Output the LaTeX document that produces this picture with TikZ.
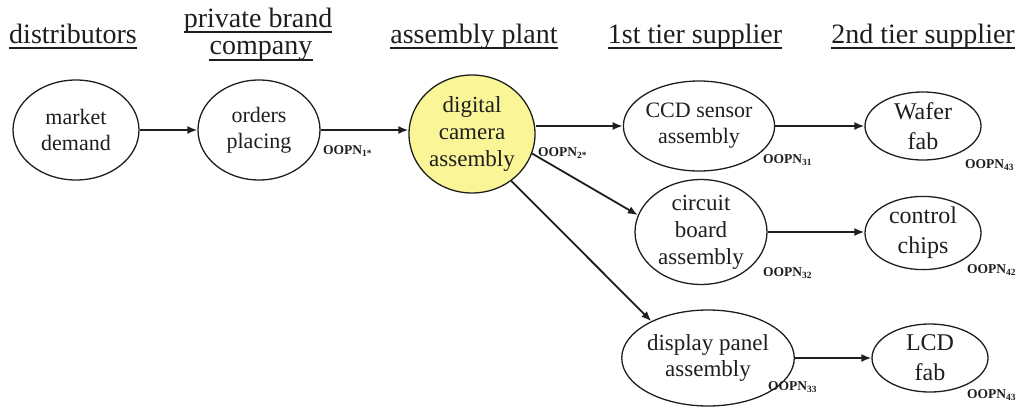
\documentclass[tikz,border=0pt]{standalone}
\usepackage{fontspec}
\setmainfont{LiberationSerif}[Extension=.ttf,UprightFont=*-Regular,BoldFont=*-Bold,ItalicFont=*-Italic,BoldItalicFont=*-BoldItalic]
\usetikzlibrary{shapes.geometric,arrows.meta}
\definecolor{ink}{RGB}{30,30,30}
\definecolor{camyellow}{RGB}{250,245,150}
\tikzset{
  ell/.style={ellipse,draw=ink,line width=1.3pt,inner sep=0pt,align=center,text=ink,
    font=\fontsize{22}{26}\selectfont},
  ellbig/.style={ell,font=\fontsize{24}{30}\selectfont},
  conn/.style={draw=ink,line width=1.8pt,-{Latex[length=10pt,width=8pt]}},
  hdr/.style={inner sep=0pt,anchor=base,text=ink,font=\fontsize{28}{30}\selectfont},
  uline/.style={draw=ink,line width=1.8pt},
  lbl/.style={inner sep=0pt,anchor=west,text=ink,font=\fontsize{13.5}{15}\selectfont\bfseries}
}
\newcommand\oopnlbl[1]{OOPN\textsubscript{#1}}
\begin{document}
\begin{tikzpicture}[x=1pt,y=-1pt]
\useasboundingbox (0,0) rectangle (1032,407);
% headers
\node[hdr] (h1) at (73,43) {distributors};
\node[hdr] (h2a) at (258,27) {private brand};
\node[hdr] (h2b) at (261,54) {company};
\node[hdr] (h3) at (474,43) {assembly plant};
\node[hdr] (h4) at (695,43) {1st tier supplier};
\node[hdr] (h5) at (923,43) {2nd tier supplier};
\foreach \h/\d in {h1/5,h2a/5,h2b/6,h3/5,h4/5,h5/5}{
  \draw[uline] ([yshift=-\d pt]\h.base west) -- ([yshift=-\d pt]\h.base east);
}
% nodes
\node[ell,minimum width=126pt,minimum height=100pt] (md) at (76,130) {market\\demand};
\node[ell,minimum width=122pt,minimum height=100pt] (op) at (259,130) {orders\\placing};
\node[ell,fill=camyellow,minimum width=126pt,minimum height=118pt,font=\fontsize{23}{27}\selectfont] (dig) at (472,134) {digital\\camera\\assembly};
\node[ell,minimum width=128pt,minimum height=90pt] (ccd) at (699,126) {CCD sensor\\assembly};
\node[ellbig,minimum width=116pt,minimum height=68pt] (wf) at (923,126) {Wafer\\fab};
\node[ell,minimum width=132pt,minimum height=88pt,font=\fontsize{23}{27}\selectfont] (cb) at (701,232) {circuit\\board\\assembly};
\node[ellbig,minimum width=116pt,minimum height=70pt] (cc) at (923,233) {control\\chips};
\node[ell,minimum width=130pt,minimum height=96pt,font=\fontsize{23}{26}\selectfont] (dp) at (708,358) {display panel\\assembly};
\node[ellbig,minimum width=116pt,minimum height=68pt] (lcd) at (930,358) {LCD\\fab};
% connectors
\draw[conn] (md) -- (op);
\draw[conn] (op.east) -- (op.east -| dig.west);
\draw[conn] (dig.east |- ccd) -- (ccd.west);
\draw[conn] (ccd.east) -- (ccd.east -| wf.west);
\draw[conn] (dig.-18) -- (cb.165);
\draw[conn] (cb.east) -- (cb.east -| cc.west);
\draw[conn] (dig.-50) -- (dp.147);
\draw[conn] (dp.east) -- (dp.east -| lcd.west);
% labels
\node[lbl] (l1) at (323,151) {\oopnlbl{1*}};
\node[lbl] (l2) at (538,153) {\oopnlbl{2*}};
\node[lbl] (l31) at (763,160) {\oopnlbl{31}};
\node[lbl] (l43a) at (965,165) {\oopnlbl{43}};
\node[lbl] (l32) at (763,273) {\oopnlbl{32}};
\node[lbl] (l42) at (967,270) {\oopnlbl{42}};
\node[lbl] (l33) at (768,387) {\oopnlbl{33}};
\node[lbl] (l43b) at (967,395) {\oopnlbl{43}};
\end{tikzpicture}
\end{document}
